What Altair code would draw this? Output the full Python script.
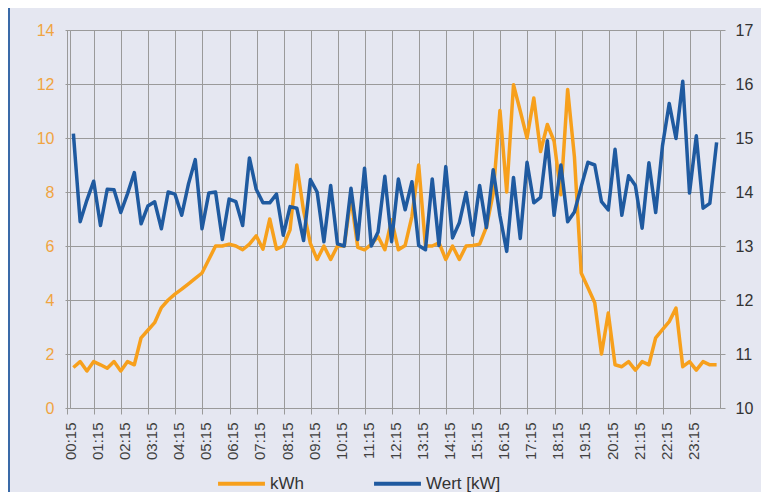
import altair as alt
import pandas as pd

# 96 quarter-hour time stamps 00:15 ... 24:00
times = [f"{((i + 1) * 15) // 60:02d}:{((i + 1) * 15) % 60:02d}" for i in range(96)]
tick_labels = [f"{h:02d}:15" for h in range(24)]

kwh = [
    1.5, 1.72, 1.37, 1.72, 1.6, 1.47, 1.72, 1.37, 1.72, 1.6,
    2.6, 2.88, 3.16, 3.72, 4.0, 4.22, 4.4, 4.6, 4.8, 5.0,
    5.5, 6.0, 6.0, 6.07, 6.0, 5.86, 6.07, 6.38, 5.88, 7.0,
    5.88, 6.0, 6.6, 9.0, 7.3, 6.1, 5.5, 6.0, 5.5, 6.0,
    6.0, 7.8, 5.95, 5.86, 6.06, 6.35, 5.86, 6.97, 5.86, 6.02,
    7.1, 9.0, 6.0, 6.0, 6.12, 5.5, 6.0, 5.5, 6.0, 6.02,
    6.07, 6.7, 7.95, 11.02, 8.0, 11.97, 11.0, 10.0, 11.48, 9.5,
    10.5, 9.88, 7.9, 11.8, 9.3, 5.0, 4.45, 3.9, 2.0, 3.52,
    1.6, 1.53, 1.72, 1.4, 1.72, 1.6, 2.6, 2.9, 3.2, 3.7,
    1.53, 1.72, 1.4, 1.72, 1.6, 1.6,
]

kw = [
    15.08, 13.45, 13.85, 14.2, 13.38, 14.05, 14.04, 13.62, 13.97, 14.36,
    13.41, 13.74, 13.82, 13.32, 14.0, 13.96, 13.57, 14.15, 14.6, 13.32,
    13.98, 14.0, 13.12, 13.87, 13.82, 13.38, 14.63, 14.05, 13.8, 13.8,
    13.96, 13.2, 13.73, 13.7, 13.1, 14.23, 14.0, 13.08, 14.12, 13.04,
    13.0, 14.07, 13.12, 14.44, 13.0, 13.26, 14.29, 13.08, 14.24, 13.67,
    14.19, 13.01, 12.93, 14.24, 13.01, 14.47, 13.15, 13.43, 13.99, 13.2,
    14.12, 13.34, 14.41, 13.56, 12.9, 14.27, 13.14, 14.55, 13.8, 13.9,
    14.95, 13.57, 14.5, 13.45, 13.63, 14.1, 14.55, 14.5, 13.82, 13.67,
    14.79, 13.57, 14.3, 14.12, 13.33, 14.54, 13.62, 14.85, 15.64, 14.99,
    16.05, 13.98, 15.04, 13.7, 13.79, 14.92,
]

series_names = ["kWh", "Wert [kW]"]
series_colors = ["#F7A01C", "#1F5AA0"]

df = pd.concat([
    pd.DataFrame({"t": times, "v": kwh, "s": series_names[0]}),
    pd.DataFrame({"t": times, "v": kw, "s": series_names[1]}),
])

FONT = "Liberation Sans"

x = alt.X(
    "t:O", sort=times, title=None,
    scale=alt.Scale(type="band", paddingInner=0, paddingOuter=0),
    axis=alt.Axis(
        values=tick_labels, labelAngle=270, bandPosition=0, grid=True,
        gridColor="#9a9a9a", gridWidth=1, domain=True, domainColor="#9a9a9a",
        ticks=True, tickColor="#9a9a9a", tickSize=6, tickOffset=-3,
        labelFontSize=15, labelColor="#404040", labelPadding=8, labelFont=FONT,
        labelAlign="right", labelBaseline="middle",
    ),
)

color = alt.Color(
    "s:N", title=None,
    scale=alt.Scale(domain=series_names, range=series_colors),
    legend=alt.Legend(
        orient="none", legendX=146, legendY=428, direction="horizontal",
        symbolType="stroke", symbolSize=2200, symbolStrokeWidth=4,
        labelFontSize=17, labelFont=FONT, labelColor="#333333",
        labelOffset=3, columnPadding=62,
    ),
)

left = alt.Chart(df).transform_filter(alt.datum.s == "kWh").mark_line(
    strokeWidth=3.5, strokeJoin="round"
).encode(
    x=x,
    y=alt.Y(
        "v:Q", title=None,
        scale=alt.Scale(domain=[0, 14], nice=False, zero=False),
        axis=alt.Axis(
            values=list(range(0, 15, 2)), grid=True, gridColor="#9a9a9a",
            domain=False, tickColor="#9a9a9a", tickSize=5,
            labelColor="#F0A441", labelFontSize=16, labelFont=FONT, labelPadding=11,
        ),
    ),
    color=color,
)

right = alt.Chart(df).transform_filter(alt.datum.s == "Wert [kW]").mark_line(
    strokeWidth=3.5, strokeJoin="round"
).encode(
    x=x,
    y=alt.Y(
        "v:Q", title=None,
        scale=alt.Scale(domain=[10, 17], nice=False, zero=False),
        axis=alt.Axis(
            orient="right", values=list(range(10, 18)), grid=False,
            domain=False, tickColor="#9a9a9a", tickSize=5,
            labelColor="#333333", labelFontSize=16, labelFont=FONT, labelPadding=10,
        ),
    ),
    color=color,
)

# outer frame line on the left edge of the chart box
frame = alt.Chart(pd.DataFrame({"a": [0]})).mark_rule(
    color="#3A6AA8", strokeWidth=2
).encode(x=alt.value(-61), y=alt.value(-22), y2=alt.value(462))

chart = alt.layer(left, right, frame).resolve_scale(y="independent").properties(
    width=650, height=378,
    autosize=alt.AutoSizeParams(type="none"),
    padding={"left": 62, "top": 22, "right": 41, "bottom": 84},
    background="#E5E7F1",
).configure_view(stroke="#9a9a9a", strokeWidth=1)

chart.save("out.html", embed_options={"renderer": "svg", "actions": False})
